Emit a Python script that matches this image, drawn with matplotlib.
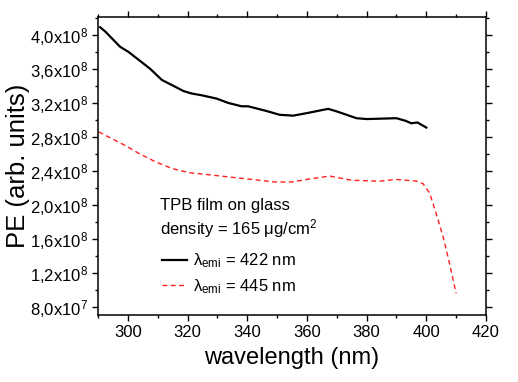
import numpy as np
import matplotlib as mpl
import matplotlib.pyplot as plt
from matplotlib.ticker import MultipleLocator, FuncFormatter

mpl.rcParams['font.family'] = ['Liberation Sans', 'DejaVu Sans']
mpl.rcParams['mathtext.fontset'] = 'custom'
mpl.rcParams['mathtext.rm'] = 'Liberation Sans'
mpl.rcParams['mathtext.it'] = 'Liberation Sans:italic'

# black curve: lambda_emi = 422 nm
wl_422 = [290.7, 292.4, 297.4, 300.2, 303.5, 307.5, 311.4, 315.3, 318.6, 321.4,
          324.7, 329.8, 333.6, 338.1, 340.3, 345.9, 350.9, 355.4, 360.0, 367.1,
          370.0, 376.6, 380.0, 390.0, 393.0, 395.0, 397.0, 400.0]
pe_422 = [4.09, 4.04, 3.86, 3.80, 3.71, 3.60, 3.47, 3.40, 3.34, 3.31,
          3.29, 3.25, 3.20, 3.16, 3.16, 3.11, 3.06, 3.05, 3.08, 3.13,
          3.10, 3.02, 3.01, 3.02, 2.99, 2.96, 2.97, 2.91]

# red dashed curve: lambda_emi = 445 nm
wl_445 = [290.2, 293.5, 299.1, 303.5, 309.1, 314.7, 320.3, 325.9, 333.6, 341.5,
          349.3, 354.8, 360.0, 367.6, 375.0, 384.4, 390.0, 396.7, 398.9, 401.1,
          403.3, 405.6, 407.8, 410.0]
pe_445 = [2.86, 2.80, 2.70, 2.61, 2.51, 2.43, 2.38, 2.36, 2.33, 2.30,
          2.27, 2.27, 2.30, 2.34, 2.29, 2.28, 2.30, 2.28, 2.25, 2.14,
          1.90, 1.63, 1.31, 0.96]

fig = plt.figure(figsize=(5.18, 3.82), dpi=100)
ax = fig.add_axes([98/518, 1-315/382, 388/518, 298/382])

ax.plot(wl_422, np.array(pe_422)*1e8, color='black', lw=1.6,
        label=r'λ$_{\mathrm{emi}}$ = 422 nm')
ax.plot(wl_445, np.array(pe_445)*1e8, color='#ff2020', lw=1.0, ls=(0, (3.5, 2.5)),
        label=r'λ$_{\mathrm{emi}}$ = 445 nm')

ax.set_xlim(290, 420)
ax.set_ylim(0.706e8, 4.21e8)
ax.xaxis.set_major_locator(MultipleLocator(20))
ax.xaxis.set_minor_locator(MultipleLocator(10))
ax.yaxis.set_major_locator(MultipleLocator(0.4e8))
ax.yaxis.set_minor_locator(MultipleLocator(0.2e8))

def sci(v, pos):
    if v <= 0:
        return ''
    e = int(np.floor(np.log10(v) + 1e-9))
    m = v / 10**e
    return ('%.1f' % m).replace('.', ',') + 'x10$^{%d}$' % e

ax.yaxis.set_major_formatter(FuncFormatter(sci))
ax.tick_params(which='both', direction='out', top=True, right=True,
               labeltop=False, labelright=False, labelsize=12, width=1.0)
ax.tick_params(which='major', length=4.5, pad=3)
ax.tick_params(which='minor', length=2.5)
for s in ax.spines.values():
    s.set_linewidth(1.1)

ax.set_xlabel('wavelength (nm)', fontsize=17, labelpad=5)
ax.set_ylabel('PE (arb. units)', fontsize=18.5, labelpad=0)

ax.text(0.16, 0.366, 'TPB film on glass', transform=ax.transAxes,
        fontsize=12, va='center')
ax.text(0.16, 0.289, 'density = 165 μg/cm$^{2}$', transform=ax.transAxes,
        fontsize=12, va='center')
ax.legend(loc='upper left', bbox_to_anchor=(0.147, 0.235), frameon=False,
          fontsize=12, handlelength=1.5, handletextpad=0.4, labelspacing=0.4,
          borderaxespad=0)

fig.savefig('out.png', dpi=100)
